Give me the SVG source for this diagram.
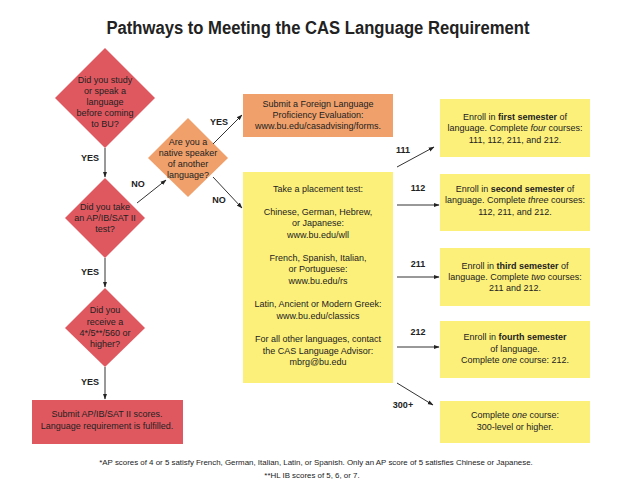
<svg xmlns="http://www.w3.org/2000/svg" width="636" height="491" viewBox="0 0 636 491">
<defs>
<marker id="ah" viewBox="0 0 10 10" refX="9" refY="5" markerWidth="6" markerHeight="6" orient="auto" markerUnits="userSpaceOnUse"><path d="M0,1.5 L10,5 L0,8.5 z" fill="#222"/></marker>
<style>
text{font-family:"Liberation Sans",Arial,sans-serif;fill:#222;}
.t{font-size:9px;text-anchor:middle;}
.lbl{font-size:9px;font-weight:bold;text-anchor:middle;}
.red{fill:#e0585f;}
.org{fill:#f0a06a;}
.yel{fill:#fdf07a;}
.c{stroke:#333;stroke-width:1;fill:none;marker-end:url(#ah);}
.fn{font-size:7.9px;text-anchor:middle;}
</style>
</defs>
<rect width="636" height="491" fill="#fff"/>
<text x="318" y="34" font-size="18" font-weight="bold" text-anchor="middle" textLength="423" lengthAdjust="spacingAndGlyphs">Pathways to Meeting the CAS Language Requirement</text>

<g id="q1">
<polygon class="red" points="105,48 155,98 105,148 55,98"/>
<text class="t"><tspan x="105" y="83">Did you study</tspan><tspan x="105" y="94">or speak a</tspan><tspan x="105" y="105">language</tspan><tspan x="105" y="116">before coming</tspan><tspan x="105" y="127">to BU?</tspan></text>
</g>
<g id="q2">
<polygon class="red" points="105,178 145,218 105,258 65,218"/>
<text class="t"><tspan x="105" y="210">Did you take</tspan><tspan x="105" y="221">an AP/IB/SAT II</tspan><tspan x="105" y="232">test?</tspan></text>
</g>
<g id="q3">
<polygon class="red" points="105,288 145,328 105,367 65,328"/>
<text class="t"><tspan x="105" y="313">Did you</tspan><tspan x="105" y="325">receive a</tspan><tspan x="105" y="336">4*/5**/560 or</tspan><tspan x="105" y="347">higher?</tspan></text>
</g>
<g id="submit-scores">
<rect class="red" x="32" y="400" width="151" height="44"/>
<text class="t"><tspan x="107" y="417">Submit AP/IB/SAT II scores.</tspan><tspan x="107" y="429">Language requirement is fulfilled.</tspan></text>
</g>
<g id="q4">
<polygon class="org" points="188,118 228,158 188,197 148,158"/>
<text class="t"><tspan x="188" y="145">Are you a</tspan><tspan x="188" y="156">native speaker</tspan><tspan x="188" y="167">of another</tspan><tspan x="188" y="178">language?</tspan></text>
</g>
<g id="proficiency">
<rect class="org" x="243" y="94" width="150" height="43"/>
<text class="t"><tspan x="318" y="107">Submit a Foreign Language</tspan><tspan x="318" y="118">Proficiency Evaluation:</tspan><tspan x="318" y="129">www.bu.edu/casadvising/forms.</tspan></text>
</g>
<g id="placement">
<rect class="yel" x="243" y="172" width="150" height="211"/>
<text class="t"><tspan x="318" y="192">Take a placement test:</tspan><tspan x="318" y="215">Chinese, German, Hebrew,</tspan><tspan x="318" y="226">or Japanese:</tspan><tspan x="318" y="238">www.bu.edu/wll</tspan><tspan x="318" y="261">French, Spanish, Italian,</tspan><tspan x="318" y="272">or Portuguese:</tspan><tspan x="318" y="284">www.bu.edu/rs</tspan><tspan x="318" y="307">Latin, Ancient or Modern Greek:</tspan><tspan x="318" y="319">www.bu.edu/classics</tspan><tspan x="318" y="342">For all other languages, contact</tspan><tspan x="318" y="354">the CAS Language Advisor:</tspan><tspan x="318" y="365">mbrg@bu.edu</tspan></text>
</g>
<g id="s111">
<rect class="yel" x="440" y="99" width="150" height="58"/>
<text class="t"><tspan x="515" y="120">Enroll in <tspan font-weight="bold">first semester</tspan> of</tspan><tspan x="515" y="131">language. Complete <tspan font-style="italic">four</tspan> courses:</tspan><tspan x="515" y="143">111, 112, 211, and 212.</tspan></text>
</g>
<g id="s112">
<rect class="yel" x="440" y="174" width="150" height="57"/>
<text class="t"><tspan x="515" y="192">Enroll in <tspan font-weight="bold">second semester</tspan> of</tspan><tspan x="515" y="203">language. Complete <tspan font-style="italic">three</tspan> courses:</tspan><tspan x="515" y="215">112, 211, and 212.</tspan></text>
</g>
<g id="s211">
<rect class="yel" x="440" y="248" width="150" height="58"/>
<text class="t"><tspan x="515" y="269">Enroll in <tspan font-weight="bold">third semester</tspan> of</tspan><tspan x="515" y="280">language. Complete <tspan font-style="italic">two</tspan> courses:</tspan><tspan x="515" y="291">211 and 212.</tspan></text>
</g>
<g id="s212">
<rect class="yel" x="440" y="321" width="150" height="57"/>
<text class="t"><tspan x="515" y="340">Enroll in <tspan font-weight="bold">fourth semester</tspan></tspan><tspan x="515" y="352">of language.</tspan><tspan x="515" y="363">Complete <tspan font-style="italic">one</tspan> course: 212.</tspan></text>
</g>
<g id="s300">
<rect class="yel" x="440" y="401" width="150" height="42"/>
<text class="t"><tspan x="515" y="418">Complete <tspan font-style="italic">one</tspan> course:</tspan><tspan x="515" y="430">300-level or higher.</tspan></text>
</g>

<g id="connectors">
<line class="c" x1="105" y1="148" x2="105" y2="177"/>
<line class="c" x1="105" y1="258" x2="105" y2="287"/>
<line class="c" x1="105" y1="367" x2="105" y2="399"/>
<line class="c" x1="137" y1="203" x2="166" y2="180"/>
<line class="c" x1="213" y1="144" x2="242" y2="115"/>
<line class="c" x1="213" y1="177" x2="242" y2="208"/>
<line class="c" x1="397" y1="167" x2="434" y2="147"/>
<line class="c" x1="397" y1="205" x2="439" y2="205"/>
<line class="c" x1="397" y1="277" x2="439" y2="277"/>
<line class="c" x1="397" y1="347" x2="439" y2="347"/>
<line class="c" x1="397" y1="383" x2="433" y2="405"/>
<text class="lbl" x="90" y="161">YES</text>
<text class="lbl" x="90" y="275">YES</text>
<text class="lbl" x="90" y="385">YES</text>
<text class="lbl" x="138" y="187">NO</text>
<text class="lbl" x="219" y="125">YES</text>
<text class="lbl" x="219" y="203">NO</text>
<text class="lbl" x="403" y="153">111</text>
<text class="lbl" x="418" y="191">112</text>
<text class="lbl" x="418" y="267">211</text>
<text class="lbl" x="418" y="335">212</text>
<text class="lbl" x="403" y="408">300+</text>
</g>
<text class="fn" x="316" y="465">*AP scores of 4 or 5 satisfy French, German, Italian, Latin, or Spanish. Only an AP score of 5 satisfies Chinese or Japanese.</text>
<text class="fn" x="312" y="478">**HL IB scores of 5, 6, or 7.</text>
</svg>
